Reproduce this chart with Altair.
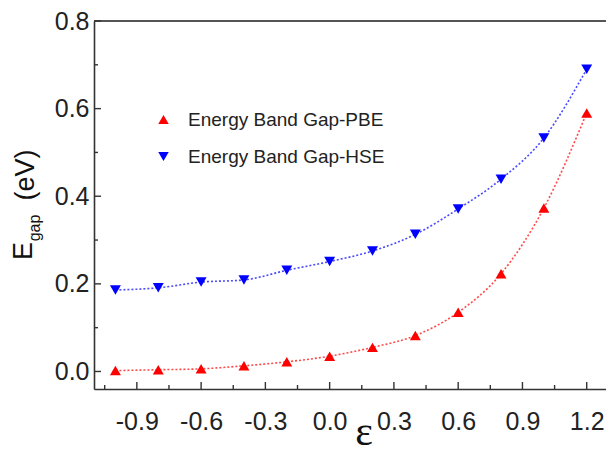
import altair as alt
import pandas as pd

strain = [-1.0, -0.8, -0.6, -0.4, -0.2, 0.0, 0.2, 0.4, 0.6, 0.8, 1.0, 1.2]
gap_pbe = [0.002, 0.004, 0.006, 0.013, 0.022, 0.035, 0.055, 0.082, 0.135, 0.223, 0.373, 0.59]
gap_hse = [0.186, 0.191, 0.204, 0.209, 0.231, 0.251, 0.275, 0.313, 0.371, 0.439, 0.533, 0.69]
series_names = ["Energy Band Gap-PBE", "Energy Band Gap-HSE"]
series_colors = ["#ff0000", "#0000ff"]
line_colors = ["#ff2a2a", "#2a2aff"]
series_shapes = ["triangle-up", "triangle-down"]

x_major = [-0.9, -0.6, -0.3, 0.0, 0.3, 0.6, 0.9, 1.2]
x_minor = [-1.05, -0.75, -0.45, -0.15, 0.15, 0.45, 0.75, 1.05]
y_major = [0.0, 0.2, 0.4, 0.6, 0.8]
y_minor = [0.1, 0.3, 0.5, 0.7]

X_DOM = [-1.1, 1.29]
Y_DOM = [-0.04, 0.8]
W, H = 512, 368
FONT = "Liberation Sans"
AX = "#333333"

df = pd.DataFrame({
    "strain": strain * 2,
    "gap": gap_pbe + gap_hse,
    "series": [series_names[0]] * len(strain) + [series_names[1]] * len(strain),
})

xs = alt.Scale(domain=X_DOM, nice=False, zero=False)
ys = alt.Scale(domain=Y_DOM, nice=False, zero=False)
cs = alt.Scale(domain=series_names, range=series_colors)
ss = alt.Scale(domain=series_names, range=series_shapes)

LBL = "replace(datum.label, '\u2212', '-')"

base = alt.Chart(df)

points = base.mark_point(filled=True, size=120, opacity=1).encode(
    x=alt.X("strain:Q", scale=xs, axis=alt.Axis(
        values=x_major, format=".1f", labelExpr=LBL, tickSize=0, labelFontSize=25, labelFont=FONT,
        labelColor="#222", domainColor=AX, domainWidth=1.6, grid=False, title=None, labelPadding=20)),
    y=alt.Y("gap:Q", scale=ys, axis=alt.Axis(
        values=y_major, format=".1f", tickSize=0, labelFontSize=25, labelFont=FONT,
        labelColor="#222", domainColor=AX, domainWidth=1.6, grid=False, title=None, labelPadding=5)),
    color=alt.Color("series:N", scale=cs, legend=alt.Legend(
        orient="none", legendX=60, legendY=89, title=None, labelFontSize=19, labelFont=FONT,
        labelColor="#222", labelLimit=400, symbolSize=110, rowPadding=17, labelOffset=15)),
    shape=alt.Shape("series:N", scale=ss),
)

line_layers = []
for name, col in zip(series_names, line_colors):
    line_layers.append(
        base.transform_filter(alt.datum.series == name).mark_line(
            strokeWidth=1.6, strokeDash=[2, 2], interpolate="monotone", color=col, opacity=0.85
        ).encode(x=alt.X("strain:Q", scale=xs), y=alt.Y("gap:Q", scale=ys))
    )

xmaj = alt.Chart(pd.DataFrame({"v": x_major})).mark_rule(color=AX, strokeWidth=1.4).encode(
    x=alt.X("v:Q", scale=xs), y=alt.value(H), y2=alt.value(H - 7))
xmin = alt.Chart(pd.DataFrame({"v": x_minor})).mark_rule(color=AX, strokeWidth=1.4).encode(
    x=alt.X("v:Q", scale=xs), y=alt.value(H), y2=alt.value(H - 4))
ymaj = alt.Chart(pd.DataFrame({"v": y_major})).mark_rule(color=AX, strokeWidth=1.4).encode(
    y=alt.Y("v:Q", scale=ys), x=alt.value(0), x2=alt.value(7))
ymin = alt.Chart(pd.DataFrame({"v": y_minor})).mark_rule(color=AX, strokeWidth=1.4).encode(
    y=alt.Y("v:Q", scale=ys), x=alt.value(0), x2=alt.value(4))
top = alt.Chart(pd.DataFrame({"v": [Y_DOM[1]]})).mark_rule(color="#555", strokeWidth=2).encode(
    y=alt.Y("v:Q", scale=ys))

t_e = alt.Chart(pd.DataFrame({"t": ["E"]})).mark_text(
    angle=270, align="center", baseline="alphabetic", fontSize=27, font=FONT, color="#111").encode(
    text="t:N", x=alt.value(-62), y=alt.value(230))
t_gap = alt.Chart(pd.DataFrame({"t": ["gap"]})).mark_text(
    angle=270, align="center", baseline="alphabetic", fontSize=16, font=FONT, color="#111").encode(
    text="t:N", x=alt.value(-54), y=alt.value(207))
t_ev = alt.Chart(pd.DataFrame({"t": ["(eV)"]})).mark_text(
    angle=270, align="center", baseline="alphabetic", fontSize=27, font=FONT, color="#111").encode(
    text="t:N", x=alt.value(-60), y=alt.value(154))
t_eps = alt.Chart(pd.DataFrame({"t": ["ε"]})).mark_text(
    align="center", baseline="alphabetic", fontSize=42, font="Liberation Serif", color="#111").encode(
    text="t:N", x=alt.value(270), y=alt.value(424))

chart = alt.layer(top, xmaj, xmin, ymaj, ymin, *line_layers, points, t_e, t_gap, t_ev, t_eps).properties(
    width=W, height=H,
    autosize=alt.AutoSizeParams(type="none"),
    padding={"left": 86, "top": 13, "right": 0, "bottom": 60},
).configure_view(stroke=None).configure(background="white")

chart.save("out.html", embed_options={"renderer": "svg", "actions": False})
